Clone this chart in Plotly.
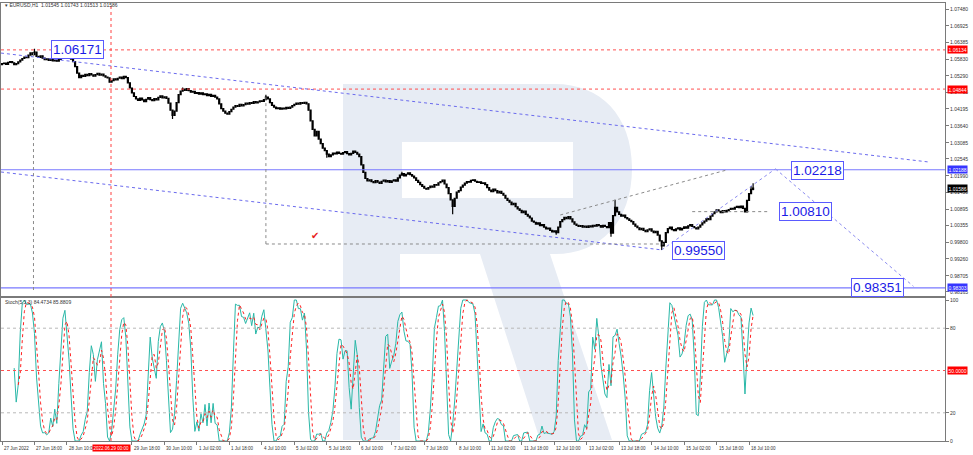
import plotly.graph_objects as go

W, H = 973, 455

# ---------------- data ----------------
first_open = 1.0565
closes = [
    1.0568, 1.0570, 1.0566, 1.0572, 1.0575, 1.0571, 1.0565, 1.0568, 1.0574, 1.0580, 1.0585, 1.0590, 1.0588, 1.0596, 1.0604, 1.0598, 1.0606,
    1.0592, 1.0589, 1.0594, 1.0586, 1.0581, 1.0584, 1.0579, 1.0583, 1.0577, 1.0580, 1.0576, 1.0582, 1.0588, 1.0585, 1.0593, 1.0598, 1.0590, 1.0583, 1.0575,
    1.0558, 1.0537, 1.0522, 1.0530, 1.0526,
    1.0533, 1.0529, 1.0535, 1.0531, 1.0527, 1.0532, 1.0536, 1.0530, 1.0534, 1.0528, 1.0524, 1.0521,
    1.0507, 1.0512, 1.0518, 1.0515, 1.0520, 1.0524, 1.0519, 1.0526, 1.0522,
    1.0505, 1.0488, 1.0472, 1.0460, 1.0452,
    1.0447, 1.0455, 1.0449, 1.0443, 1.0451, 1.0456, 1.0450, 1.0446, 1.0453, 1.0449, 1.0457, 1.0462, 1.0455, 1.0459, 1.0454,
    1.0438, 1.0415, 1.0398, 1.0412, 1.0440, 1.0466, 1.0478, 1.0484, 1.0480, 1.0486,
    1.0479, 1.0474, 1.0477, 1.0470, 1.0473, 1.0468, 1.0472, 1.0466, 1.0469, 1.0463, 1.0467, 1.0460, 1.0464, 1.0458, 1.0452,
    1.0436, 1.0420, 1.0412, 1.0405, 1.0402, 1.0410, 1.0418,
    1.0425, 1.0430, 1.0427, 1.0434, 1.0429, 1.0433, 1.0438, 1.0435, 1.0440, 1.0437, 1.0443, 1.0439, 1.0442, 1.0446, 1.0444,
    1.0450, 1.0458, 1.0452,
    1.0440, 1.0431, 1.0425, 1.0420, 1.0423, 1.0418, 1.0422, 1.0419, 1.0424, 1.0421, 1.0425,
    1.0430, 1.0434, 1.0438, 1.0435, 1.0440, 1.0437, 1.0441, 1.0436,
    1.0415, 1.0380, 1.0352, 1.0330, 1.0345, 1.0320, 1.0305, 1.0290, 1.0282, 1.0270, 1.0262,
    1.0268, 1.0274, 1.0271, 1.0277, 1.0273, 1.0270, 1.0275, 1.0279, 1.0272, 1.0268, 1.0273, 1.0280, 1.0276, 1.0270,
    1.0262, 1.0235, 1.0210, 1.0190, 1.0182, 1.0186,
    1.0180, 1.0176, 1.0183, 1.0178, 1.0174, 1.0181, 1.0185, 1.0179, 1.0183, 1.0177, 1.0182, 1.0186, 1.0181,
    1.0192, 1.0201, 1.0206, 1.0199, 1.0204, 1.0209, 1.0203, 1.0198, 1.0192,
    1.0184, 1.0177, 1.0170, 1.0164, 1.0158, 1.0155, 1.0160,
    1.0165, 1.0162, 1.0170, 1.0168, 1.0176, 1.0180, 1.0185,
    1.0172, 1.0160, 1.0140, 1.0120, 1.0098, 1.0125, 1.0145,
    1.0150, 1.0162, 1.0168, 1.0175, 1.0180, 1.0178, 1.0184,
    1.0186, 1.0181, 1.0177, 1.0179, 1.0174, 1.0176, 1.0170,
    1.0160, 1.0152, 1.0147, 1.0155, 1.0150, 1.0143, 1.0148, 1.0141, 1.0135,
    1.0125, 1.0118, 1.0112, 1.0104, 1.0108, 1.0097, 1.0090, 1.0085, 1.0078, 1.0083, 1.0072, 1.0066, 1.0060,
    1.0050, 1.0046, 1.0040, 1.0044, 1.0035, 1.0038, 1.0030, 1.0024, 1.0027, 1.0019, 1.0014, 1.0018, 1.0012,
    1.0030, 1.0048, 1.0055, 1.0062, 1.0058, 1.0065, 1.0057,
    1.0047, 1.0040, 1.0036, 1.0032, 1.0035, 1.0030, 1.0033, 1.0029,
    1.0034, 1.0031, 1.0036, 1.0033, 1.0038, 1.0035, 1.0030, 1.0036, 1.0032, 1.0028,
    1.0045, 1.0010, 1.0068, 1.0095, 1.0080,
    1.0072, 1.0066, 1.0070, 1.0061, 1.0057, 1.0052, 1.0048, 1.0040,
    1.0033, 1.0028, 1.0022, 1.0026, 1.0019, 1.0015, 1.0021, 1.0024, 1.0017, 1.0012, 1.0016,
    1.0004, 0.9985, 0.9968, 0.9980, 1.0012,
    1.0025, 1.0030, 1.0022, 1.0018, 1.0024, 1.0028, 1.0021, 1.0026, 1.0031, 1.0027, 1.0034, 1.0038, 1.0032, 1.0028, 1.0024, 1.0030,
    1.0037, 1.0044, 1.0050, 1.0058, 1.0055, 1.0066, 1.0074, 1.0080, 1.0087,
    1.0082, 1.0078, 1.0084, 1.0080, 1.0085, 1.0088, 1.0092, 1.0089, 1.0095, 1.0098, 1.0094, 1.0099, 1.0092, 1.0080,
    1.0118, 1.0140, 1.01545, 1.01586,
]
# wicks that stand out in the picture (bar index -> price)
high_marks = {16: 1.06171, 32: 1.0611, 89: 1.0490, 130: 1.0466, 197: 1.0212, 302: 1.0120, 369: 1.0165, 370: 1.01743}
low_marks = {84: 1.0386, 160: 1.0258, 222: 1.0072, 273: 1.0005, 300: 0.9998, 325: 0.99550, 370: 1.01513}

price_ticks = [1.07480, 1.06925, 1.06385, 1.05830, 1.05290, 1.04735, 1.04195, 1.03640, 1.03085,
               1.02545, 1.01990, 1.01450, 1.00895, 1.00355, 0.99800, 0.99260, 0.98705, 0.98165]
level_prices = [1.06134, 1.04844, 1.02188, 1.01586, 0.98303]
level_colors = ["#ff0000", "#ff0000", "#3535ff", "#000000", "#3535ff"]

time_idx = [0, 16, 32, 64, 80, 96, 112, 128, 144, 160, 176, 192, 208, 224, 240, 256, 272, 288, 304, 320, 336, 352, 368]
time_text = ["27 Jun 2022", "27 Jun 18:00", "28 Jun 10:00", "29 Jun 18:00", "30 Jun 10:00", "1 Jul 02:00",
             "1 Jul 18:00", "4 Jul 10:00", "5 Jul 02:00", "5 Jul 18:00", "6 Jul 10:00", "7 Jul 02:00",
             "7 Jul 18:00", "8 Jul 10:00", "11 Jul 02:00", "11 Jul 18:00", "12 Jul 10:00", "13 Jul 02:00",
             "13 Jul 18:00", "14 Jul 10:00", "15 Jul 02:00", "15 Jul 18:00", "18 Jul 10:00"]
vline_idx = 53.7
vline_text = "2022.06.29 00:00"

stoch_ticks = [100, 80, 20, 0]
stoch_levels = [80, 50, 20]

# drawn objects: (bar index, price) endpoints
channel_lines = [((-0.5, 1.0603), (457.0, 1.0244)), ((-0.5, 1.02115), (325.0, 0.99550))]
forecast_lines = [((325.0, 0.99550), (381.0, 1.02218)), ((381.0, 1.02218), (449.0, 0.98351))]
gray_lines = [((275.0, 1.0070), (357.0, 1.0218)), ((340.0, 1.0081), (377.0, 1.0081)),
              ((130.0, 1.0458), (130.0, 0.99745)), ((130.0, 0.99745), (326.0, 0.99745)),
              ((15.5, 1.0603), (15.5, 0.9823))]
price_labels = [("1.06171", 24.1, 1.06163), ("1.02218", 388.7, 1.02164), ("1.00810", 382.8, 1.0080),
                ("0.99550", 330.0, 0.99531), ("0.98351", 418.2, 0.98313)]
check_pos = (154.2, 1.0004)

# ---------------- derived ----------------
n = len(closes)
idx = list(range(n))
opens = [first_open] + closes[:-1]
highs = [max(o, c) for o, c in zip(opens, closes)]
lows = [min(o, c) for o, c in zip(opens, closes)]
for k, v in high_marks.items():
    highs[k] = max(highs[k], v)
for k, v in low_marks.items():
    lows[k] = min(lows[k], v)

# Stochastic (5,3,3)
kp, slow, dp = 5, 3, 3
num, den = [None] * n, [None] * n
for i in range(kp - 1, n):
    ll = min(lows[i - kp + 1:i + 1]); hh = max(highs[i - kp + 1:i + 1])
    num[i] = closes[i] - ll; den[i] = hh - ll
K = [None] * n
for i in range(kp - 1 + slow - 1, n):
    s_n = sum(num[i - slow + 1:i + 1]); s_d = sum(den[i - slow + 1:i + 1])
    K[i] = 100 * s_n / s_d if s_d > 0 else 50.0
D = [None] * n
for i in range(n):
    w = K[max(0, i - dp + 1):i + 1]
    if len(w) == dp and all(v is not None for v in w):
        D[i] = sum(w) / dp

# ---------------- figure ----------------
FRAME = "#7a7a7a"
XR = [-0.4926, 464.53]
XD = [1 / W, 945 / W]

fig = go.Figure()
fig.add_trace(go.Candlestick(
    x=idx, open=opens, high=highs, low=lows, close=closes,
    increasing=dict(line=dict(color="black", width=1.2), fillcolor="white"),
    decreasing=dict(line=dict(color="black", width=1.2), fillcolor="black"),
    whiskerwidth=0, showlegend=False, hoverinfo="skip", xaxis="x", yaxis="y"))
fig.add_trace(go.Scatter(x=idx, y=K, mode="lines", line=dict(color="#2ab8a8", width=1),
                         showlegend=False, hoverinfo="skip", xaxis="x2", yaxis="y2"))
fig.add_trace(go.Scatter(x=idx, y=D, mode="lines", line=dict(color="#ff2020", width=1, dash="dot"),
                         showlegend=False, hoverinfo="skip", xaxis="x2", yaxis="y2"))

shapes = []
# watermark logo (paper coords from pixels)
def P(px, py):
    return f"{px / W:.5f},{1 - py / H:.5f}"
logo = (f"M {P(343,84)} L {P(555,84)} C {P(600,84)} {P(632,115)} {P(632,168)} "
        f"C {P(632,222)} {P(600,254)} {P(555,254)} L {P(550,254)} L {P(612,440)} L {P(540,440)} "
        f"L {P(480,254)} L {P(400,254)} L {P(400,440)} L {P(343,440)} Z "
        f"M {P(402,142)} L {P(573,142)} L {P(573,198)} L {P(402,198)} Z")
shapes.append(dict(type="path", path=logo, xref="paper", yref="paper", fillcolor="#e7ecf4",
                   line=dict(width=0), layer="below", fillrule="evenodd"))

for p, c in zip(level_prices, level_colors):
    if c == "#000000":
        continue
    if c == "#ff0000":
        ln = dict(color="#ff5050", width=1, dash="dot")
    else:
        ln = dict(color="#7878ff", width=1.2)
    shapes.append(dict(type="line", xref="x domain", yref="y", x0=0, x1=1, y0=p, y1=p, line=ln))

for (a, b) in channel_lines:
    shapes.append(dict(type="line", xref="x", yref="y", x0=a[0], y0=a[1], x1=b[0], y1=b[1],
                       line=dict(color="#6a6aee", width=1, dash="dot")))
for (a, b) in forecast_lines:
    shapes.append(dict(type="line", xref="x", yref="y", x0=a[0], y0=a[1], x1=b[0], y1=b[1],
                       line=dict(color="#8c8cf0", width=1, dash="dot")))
for (a, b) in gray_lines:
    shapes.append(dict(type="line", xref="x", yref="y", x0=a[0], y0=a[1], x1=b[0], y1=b[1],
                       line=dict(color="#8a8a8a", width=1, dash="dot")))

# stoch levels
for lv in stoch_levels:
    col = "#ff5050" if lv == 50 else "#b8b8b8"
    shapes.append(dict(type="line", xref="x2 domain", yref="y2", x0=0, x1=1, y0=lv, y1=lv,
                       line=dict(color=col, width=1, dash="dot")))
# vertical red line through both panels
shapes.append(dict(type="line", xref="x", yref="paper", x0=vline_idx, x1=vline_idx,
                   y0=1 - 441 / H, y1=1 - 3 / H, line=dict(color="#ff4040", width=1, dash="dot")))

annotations = []
FONT = "Liberation Sans"
SMALL = 5.0
# price labels on the right
for p in price_ticks:
    annotations.append(dict(x=948 / W, xref="paper", y=p, yref="y", xanchor="left", yanchor="middle",
                            text=f"{p:.5f}", showarrow=False, font=dict(family=FONT, size=SMALL, color="#333333")))
for p, c in zip(level_prices, level_colors):
    annotations.append(dict(x=946.5 / W, xref="paper", y=p, yref="y", xanchor="left", yanchor="middle",
                            text=f"{p:.5f}", showarrow=False, bgcolor=c, borderpad=0.5,
                            font=dict(family=FONT, size=SMALL, color="white")))
for v in stoch_ticks:
    annotations.append(dict(x=948 / W, xref="paper", y=v, yref="y2", xanchor="left", yanchor="middle",
                            text=str(v), showarrow=False, font=dict(family=FONT, size=SMALL, color="#333333")))
annotations.append(dict(x=946.5 / W, xref="paper", y=50, yref="y2", xanchor="left", yanchor="middle",
                        text="50.0000", showarrow=False, bgcolor="#ff0000", borderpad=0.5,
                        font=dict(family=FONT, size=SMALL, color="white")))
# time labels
for t, s in zip(time_idx, time_text):
    annotations.append(dict(x=t, xref="x2", y=1 - 448 / H, yref="paper", xanchor="left", yanchor="middle",
                            text=s, showarrow=False, font=dict(family=FONT, size=4.5, color="#333333")))
annotations.append(dict(x=vline_idx, xref="x2", y=1 - 448 / H, yref="paper", xanchor="center", yanchor="middle",
                        text=vline_text, showarrow=False, bgcolor="#ff0000", borderpad=0.5,
                        font=dict(family=FONT, size=4.5, color="white")))
# headers
annotations.append(dict(x=3 / W, xref="paper", y=1 - 5.5 / H, yref="paper", xanchor="left", yanchor="middle",
                        text="▾ EURUSD,H1  1.01545 1.01743 1.01513 1.01586", showarrow=False,
                        font=dict(family=FONT, size=SMALL, color="#333333")))
annotations.append(dict(x=3 / W, xref="paper", y=1 - 302 / H, yref="paper", xanchor="left", yanchor="middle",
                        text="Stoch(5,3,3) 84.4734 85.8809", showarrow=False,
                        font=dict(family=FONT, size=SMALL, color="#333333")))
# boxed price labels
for s, xi, yp in price_labels:
    annotations.append(dict(x=xi, xref="x", y=yp, yref="y", xanchor="left", yanchor="middle", text=s,
                            showarrow=False, bgcolor="white", bordercolor="#5a5aff", borderwidth=1,
                            borderpad=1, font=dict(family=FONT, size=13.5, color="#1a1ae6")))
annotations.append(dict(x=check_pos[0], xref="x", y=check_pos[1], yref="y", text="✔", showarrow=False,
                        font=dict(family="DejaVu Sans", size=10, color="#e82020")))

fig.update_layout(
    width=W, height=H, margin=dict(l=0, r=0, t=0, b=0),
    paper_bgcolor="white", plot_bgcolor="rgba(0,0,0,0)", showlegend=False,
    shapes=shapes, annotations=annotations,
    xaxis=dict(domain=XD, range=XR, anchor="y", showline=True, mirror=True, linecolor=FRAME,
               showticklabels=False, ticks="", showgrid=False, zeroline=False,
               rangeslider=dict(visible=False)),
    yaxis=dict(domain=[1 - 296 / H, 1 - 3 / H], range=[0.98033, 1.076775], anchor="x", side="right",
               tickvals=price_ticks, ticks="outside", ticklen=3, tickcolor=FRAME, showticklabels=False,
               showline=True, mirror=True, linecolor=FRAME, showgrid=False, zeroline=False),
    xaxis2=dict(domain=XD, range=XR, anchor="y2", matches="x", showline=True, mirror=True, linecolor=FRAME,
                tickvals=time_idx, ticks="outside", ticklen=3, tickcolor=FRAME, showticklabels=False,
                showgrid=False, zeroline=False),
    yaxis2=dict(domain=[1 - 441 / H, 1 - 298 / H], range=[0, 101.42], anchor="x2", side="right",
                tickvals=stoch_ticks, ticks="outside", ticklen=3, tickcolor=FRAME, showticklabels=False,
                showline=True, mirror=True, linecolor=FRAME, showgrid=False, zeroline=False),
)

fig.write_html("out.html", config={"displayModeBar": False},
               post_script="document.body.style.margin='0px';document.body.style.overflow='hidden';")
